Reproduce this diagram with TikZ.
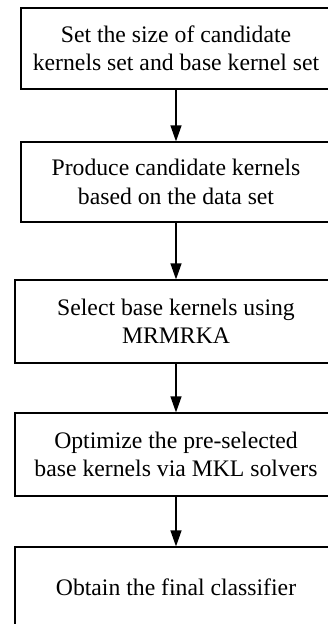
\documentclass[tikz,border=0pt]{standalone}
\usepackage{fontspec}
\setmainfont{Liberation Serif}
\usetikzlibrary{arrows.meta}
\begin{document}
\begin{tikzpicture}[x=1pt,y=1pt]
	\tikzset{stepbox/.style = {shape=rectangle,draw,line width=1.2pt,inner sep=0pt,align=center,
		font=\fontsize{23.7}{28.3}\selectfont}}
	\tikzset{flow/.style = {-{Triangle[length=16pt,width=11pt]},draw,line width=1.2pt}}
	\useasboundingbox (0,0) rectangle (328,-624);
	\clip (0,0) rectangle (328,-624);
	\node[stepbox,minimum width=310,minimum height=81] (set) at (176,-48.5) {Set the size of candidate\\kernels set and base kernel set};
	\node[stepbox,minimum width=310,minimum height=80] (produce) at (176,-182) {Produce candidate kernels\\based on the data set};
	\node[stepbox,minimum width=322,minimum height=83] (select) at (176,-321.5) {Select base kernels using\\MRMRKA};
	\node[stepbox,minimum width=322,minimum height=83] (optimize) at (176,-454.5) {Optimize the pre-selected\\base kernels via MKL solvers};
	\node[stepbox,minimum width=322,minimum height=80] (obtain) at (176,-587) {Obtain the final classifier};
	\path[flow] (set) edge (produce);
	\path[flow] (produce) edge (select);
	\path[flow] (select) edge (optimize);
	\path[flow] (optimize) edge (obtain);
\end{tikzpicture}
\end{document}
